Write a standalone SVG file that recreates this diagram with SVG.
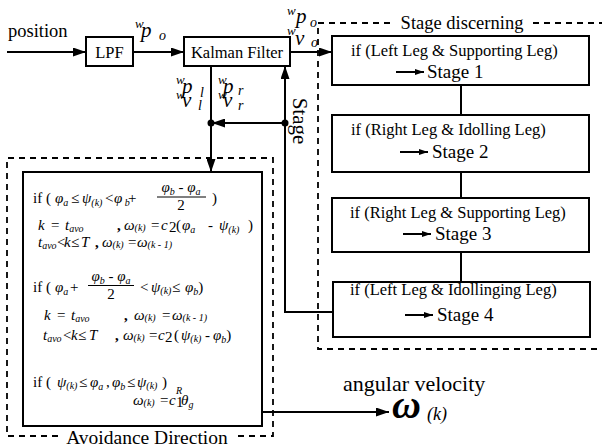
<svg xmlns="http://www.w3.org/2000/svg" width="602" height="448" viewBox="0 0 602 448">
<style>
text{font-family:"Liberation Serif","Times New Roman",serif;fill:#000}
.box{fill:#fff;stroke:#000;stroke-width:2}
.dash{fill:none;stroke:#000;stroke-width:1.8;stroke-dasharray:6 5}
.ln{fill:none;stroke:#000;stroke-width:2}
.lbl{font-size:16.5px}
.st{font-size:16.5px}
.sn{font-size:19px}
.m{font-size:15px}
.i{font-style:italic}
.sb{font-size:10px;font-style:italic}
.big{font-size:21px;font-style:italic}
.sup{font-size:13px;font-style:italic}
.sub{font-size:14px;font-style:italic}
</style>
<defs>
<marker id="ah" viewBox="0 0 13 9" refX="13" refY="4.5" markerWidth="13" markerHeight="9" markerUnits="userSpaceOnUse" orient="auto"><path d="M0,0 L13,4.5 L0,9 z" fill="#000"/></marker>
<marker id="sa" viewBox="0 0 9 6" refX="9" refY="3" markerWidth="9" markerHeight="6" markerUnits="userSpaceOnUse" orient="auto"><path d="M0,0 L9,3 L0,6 z" fill="#000"/></marker>
</defs>

<g id="stage-discerning">
<path class="dash" d="M390,23 H318 V349 H602"/>
<path class="dash" d="M533,23 H602"/>
<text x="462" y="29" font-size="18.5" text-anchor="middle">Stage discerning</text>
</g>
<g id="avoidance-direction">
<path class="dash" d="M58,436 H7 V158 H273 V436 H233"/>
<text x="147" y="444" font-size="19.5" text-anchor="middle">Avoidance Direction</text>
</g>

<g id="connectors">
<line class="ln" x1="7" y1="52" x2="86" y2="52" marker-end="url(#ah)"/>
<line class="ln" x1="133" y1="52" x2="184" y2="52" marker-end="url(#ah)"/>
<line class="ln" x1="290" y1="52" x2="332" y2="52" marker-end="url(#ah)"/>
<line class="ln" x1="211" y1="66" x2="211" y2="172" marker-end="url(#ah)"/>
<path class="ln" d="M333,312 H285 V66" marker-end="url(#ah)"/>
<line class="ln" x1="285" y1="123" x2="212" y2="123" marker-end="url(#ah)"/>
<circle cx="211" cy="123" r="3.5" fill="#000"/>
<circle cx="285" cy="123" r="3.5" fill="#000"/>
<line class="ln" x1="461" y1="85" x2="461" y2="115"/>
<line class="ln" x1="461" y1="172" x2="461" y2="198"/>
<line class="ln" x1="461" y1="252" x2="461" y2="282"/>
<line class="ln" x1="262" y1="412" x2="389" y2="412" marker-end="url(#ah)"/>
</g>

<g id="position-label">
<text x="8" y="37" font-size="18.5">position</text>
</g>

<g id="lpf">
<rect class="box" x="86" y="37" width="47" height="29"/>
<text class="lbl" x="109.5" y="58" text-anchor="middle">LPF</text>
</g>

<g id="kalman">
<rect class="box" x="184" y="37" width="106" height="29"/>
<text class="lbl" x="237" y="58" text-anchor="middle">Kalman Filter</text>
</g>

<g id="signal-labels">
<text class="sup" x="135" y="28">w</text><text class="big" x="141" y="37">p</text><text class="sub" x="159" y="40">o</text>
<text class="sup" x="176" y="84">w</text><text class="big" x="182" y="93">p</text><text class="sub" x="200" y="97">l</text>
<text class="sup" x="176" y="99">w</text><text class="big" x="182" y="107">v</text><text class="sub" x="198" y="110">l</text>
<text class="sup" x="218" y="84">w</text><text class="big" x="223" y="93">p</text><text class="sub" x="238" y="95">r</text>
<text class="sup" x="218" y="99">w</text><text class="big" x="223" y="107">v</text><text class="sub" x="238" y="110">r</text>
<text class="sup" x="287" y="15">w</text><text class="big" x="296" y="23">p</text><text class="sub" x="310" y="27">o</text>
<text class="sup" x="287" y="35">w</text><text class="big" x="295" y="45">v</text><text class="sub" x="311" y="47">o</text>
<text font-size="21" text-anchor="middle" transform="translate(293,121) rotate(90)">Stage</text>
</g>

<g id="stage1">
<rect class="box" x="332" y="36" width="257" height="49"/>
<text class="st" x="351" y="56">if (Left Leg &amp; Supporting Leg)</text>
<line x1="396" y1="72" x2="424" y2="72" stroke="#000" stroke-width="2" marker-end="url(#sa)"/>
<text class="sn" x="427" y="78">Stage 1</text>
</g>
<g id="stage2">
<rect class="box" x="332" y="115" width="257" height="57"/>
<text class="st" x="351" y="135">if (Right Leg &amp; Idolling Leg)</text>
<line x1="400" y1="152" x2="428" y2="152" stroke="#000" stroke-width="2" marker-end="url(#sa)"/>
<text class="sn" x="432" y="158">Stage 2</text>
</g>
<g id="stage3">
<rect class="box" x="332" y="198" width="257" height="54"/>
<text class="st" x="350" y="218">if (Right Leg &amp; Supporting Leg)</text>
<line x1="403" y1="234" x2="431" y2="234" stroke="#000" stroke-width="2" marker-end="url(#sa)"/>
<text class="sn" x="435" y="240">Stage 3</text>
</g>
<g id="stage4">
<rect class="box" x="333" y="282" width="257" height="55"/>
<text class="st" x="350" y="295">if (Left Leg &amp; Idollinging Leg)</text>
<line x1="405" y1="315" x2="433" y2="315" stroke="#000" stroke-width="2" marker-end="url(#sa)"/>
<text class="sn" x="437" y="321">Stage 4</text>
</g>

<g id="avoidance-box">
<rect class="box" x="23" y="172" width="239" height="254"/>
<text class="m" x="33" y="203">if (</text>
<text class="m i" x="55" y="203">φ<tspan class="sb" dy="3">a</tspan></text>
<text class="m" x="71" y="203">≤</text>
<text class="m i" x="82" y="203">ψ<tspan class="sb" dy="3">(k)</tspan></text>
<text class="m" x="105" y="203">&lt;</text>
<text class="m i" x="114" y="203">φ<tspan class="sb" dy="3"> b</tspan></text>
<text class="m" x="128" y="203">+</text>
<text class="m i" x="181" y="192" text-anchor="middle">φ<tspan class="sb" dy="3">b</tspan><tspan dy="-3" font-style="normal"> - </tspan>φ<tspan class="sb" dy="3">a</tspan></text>
<line x1="157" y1="197" x2="206" y2="197" stroke="#000" stroke-width="1"/>
<text class="m" x="181" y="210" text-anchor="middle">2</text>
<text class="m" x="212" y="203">)</text>
<text class="m i" x="38" y="230" font-size="16">k</text>
<text class="m" x="51" y="230">=</text>
<text class="m i" x="65" y="230">t<tspan class="sb" dy="2" font-size="11">avo</tspan></text>
<text class="m" x="117" y="230" font-weight="bold">,</text>
<text class="m i" x="124" y="230">ω<tspan class="sb" dy="1" font-size="12">(k)</tspan></text>
<text class="m" x="151" y="230">=</text>
<text class="m i" x="161" y="230">c</text><text class="m" x="169" y="232" font-size="11">2</text>
<text class="m" x="176" y="230">(</text>
<text class="m i" x="182" y="230">φ<tspan class="sb" dy="3">a</tspan></text>
<text class="m" x="208" y="230">-</text>
<text class="m i" x="219" y="230">ψ<tspan class="sb" dy="3" font-size="10">(k)</tspan></text>
<text class="m" x="248" y="230">)</text>
<text class="m i" x="38" y="247">t<tspan class="sb" dy="2" font-size="11">avo</tspan></text>
<text class="m" x="57" y="247">&lt;</text>
<text class="m i" x="64" y="247" font-size="16">k</text>
<text class="m" x="71" y="247">≤</text>
<text class="m i" x="81" y="247" font-size="16">T</text>
<text class="m" x="95" y="247" font-weight="bold">,</text>
<text class="m i" x="102" y="247">ω<tspan class="sb" dy="1" font-size="12">(k)</tspan></text>
<text class="m" x="128" y="247">=</text>
<text class="m i" x="137" y="247">ω<tspan class="sb" dy="1" font-size="10" font-style="normal">(k - 1)</tspan></text>
<text class="m" x="33" y="292">if  (</text>
<text class="m i" x="55" y="292">φ<tspan class="sb" dy="3">a</tspan></text>
<text class="m" x="70" y="292">+</text>
<text class="m i" x="111" y="281" text-anchor="middle">φ<tspan class="sb" dy="3">b</tspan><tspan dy="-3" font-style="normal"> - </tspan>φ<tspan class="sb" dy="3">a</tspan></text>
<line x1="88" y1="285.5" x2="134" y2="285.5" stroke="#000" stroke-width="1"/>
<text class="m" x="111" y="299" text-anchor="middle">2</text>
<text class="m" x="140" y="292">&lt;</text>
<text class="m i" x="151" y="292">ψ<tspan class="sb" dy="2">(k)</tspan></text>
<text class="m" x="172" y="292">≤</text>
<text class="m i" x="185" y="292">φ<tspan class="sb" dy="3">b</tspan><tspan dy="-3" font-style="normal">)</tspan></text>
<text class="m i" x="44" y="320" font-size="16">k</text>
<text class="m" x="57" y="320">=</text>
<text class="m i" x="71" y="320">t<tspan class="sb" dy="2" font-size="11">avo</tspan></text>
<text class="m" x="124" y="320" font-weight="bold">,</text>
<text class="m i" x="134" y="320">ω<tspan class="sb" dy="1" font-size="12">(k)</tspan></text>
<text class="m" x="162" y="320">=</text>
<text class="m i" x="172" y="320">ω<tspan class="sb" dy="1" font-size="10" font-style="normal">(k - 1)</tspan></text>
<text class="m i" x="43" y="340">t<tspan class="sb" dy="2" font-size="11">avo</tspan></text>
<text class="m" x="63" y="340">&lt;</text>
<text class="m i" x="71" y="340" font-size="16">k</text>
<text class="m" x="78" y="340">≤</text>
<text class="m i" x="89" y="340" font-size="16">T</text>
<text class="m" x="115" y="340" font-weight="bold">,</text>
<text class="m i" x="123" y="340">ω<tspan class="sb" dy="1" font-size="12">(k)</tspan></text>
<text class="m" x="149" y="340">=</text>
<text class="m i" x="158" y="340">c</text><text class="m" x="165" y="342" font-size="11">2</text>
<text class="m" x="174" y="340">(</text>
<text class="m i" x="181" y="340">ψ<tspan class="sb" dy="2">(k)</tspan></text>
<text class="m" x="205" y="340">-</text>
<text class="m i" x="213" y="340">φ<tspan class="sb" dy="3">b</tspan><tspan dy="-3" font-style="normal">)</tspan></text>
<text class="m" x="33" y="387">if  (</text>
<text class="m i" x="57" y="387">ψ<tspan class="sb" dy="2">(k)</tspan></text>
<text class="m" x="79" y="387">≤</text>
<text class="m i" x="90" y="387">φ<tspan class="sb" dy="3">a</tspan></text>
<text class="m" x="106" y="387">,</text>
<text class="m i" x="112" y="387">φ<tspan class="sb" dy="3">b</tspan></text>
<text class="m" x="127" y="387">≤</text>
<text class="m i" x="137" y="387">ψ<tspan class="sb" dy="2">(k)</tspan></text>
<text class="m" x="162" y="387">)</text>
<text class="m i" x="133" y="405">ω<tspan class="sb" dy="1" font-size="12">(k)</tspan></text>
<text class="m" x="160" y="405">=</text>
<text class="m i" x="169" y="405">c</text><text class="m" x="176" y="407" font-size="10">1</text>
<text class="sb" x="176" y="394" font-size="9">R</text>
<text class="m i" x="181" y="405">θ<tspan class="sb" dy="3">g</tspan></text>
</g>

<g id="output">
<text x="343" y="391" font-size="22">angular velocity</text>
<text x="392" y="418" font-size="40" font-style="italic" font-weight="bold">ω</text>
<text x="427" y="420" font-size="18" font-style="italic">(k)</text>
</g>
</svg>
